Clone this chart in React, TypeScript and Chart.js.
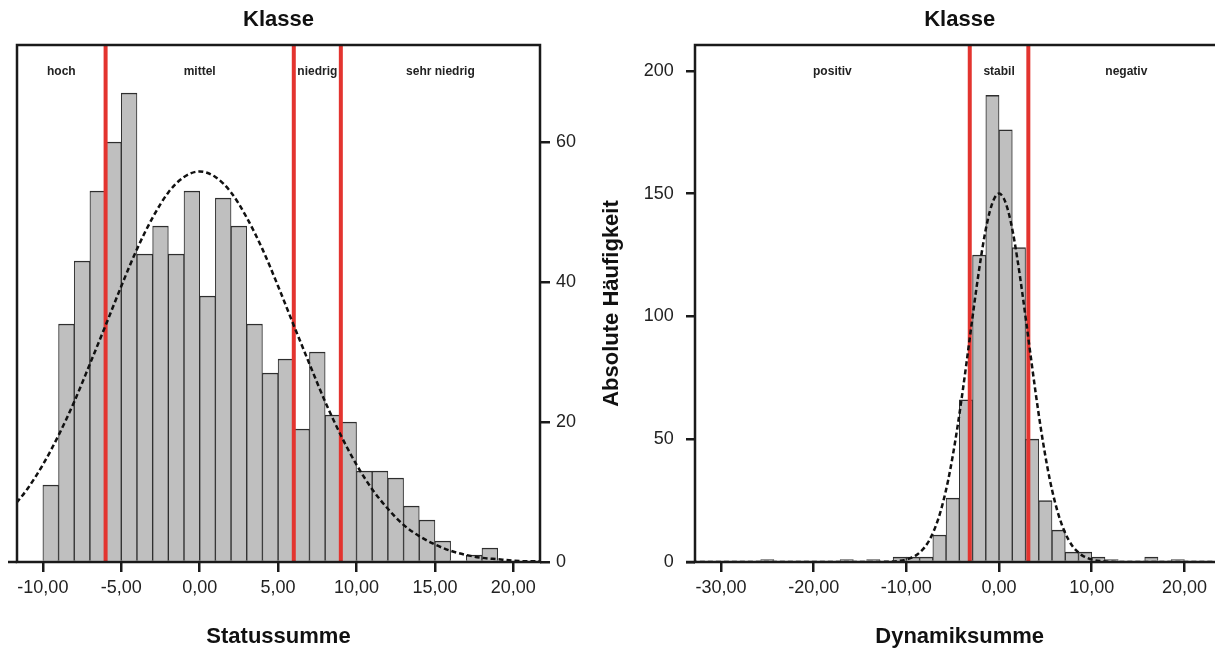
import React, { useEffect, useRef } from 'react';
import { Chart, registerables } from 'chart.js';

Chart.register(...registerables);
Chart.defaults.font.family = "'Liberation Sans', Arial, sans-serif";

// ---------- Left chart: Statussumme ----------
const statusBinCenters = [
  -9.5, -8.5, -7.5, -6.5, -5.5, -4.5, -3.5, -2.5, -1.5, -0.5,
  0.5, 1.5, 2.5, 3.5, 4.5, 5.5, 6.5, 7.5, 8.5, 9.5,
  10.5, 11.5, 12.5, 13.5, 14.5, 15.5, 16.5, 17.5, 18.5,
];
const statusCounts = [
  11, 34, 43, 53, 60, 67, 44, 48, 44, 53,
  38, 52, 48, 34, 27, 29, 19, 30, 21, 20,
  13, 13, 12, 8, 6, 3, 0, 1, 2,
];
const statusCurveX = [
  -12, -11, -10, -9, -8, -7, -6, -5, -4, -3, -2, -1, 0, 1, 2, 3, 4, 5, 6,
  7, 8, 9, 10, 11, 12, 13, 14, 15, 16, 17, 18, 19, 20, 21, 22,
];
const statusCurveY = [
  7.6, 10.4, 13.9, 18.1, 22.9, 28.3, 33.8, 39.4, 44.7, 49.2, 52.8, 55.0, 55.8,
  55.0, 52.8, 49.2, 44.7, 39.4, 33.8, 28.3, 22.9, 18.1, 13.9, 10.4, 7.6, 5.3,
  3.7, 2.5, 1.6, 1.0, 0.6, 0.4, 0.2, 0.1, 0.1,
];
const statusCuts = [-6, 6, 9];
const statusClasses = ['hoch', 'mittel', 'niedrig', 'sehr niedrig'];
const statusXTicks = [-10, -5, 0, 5, 10, 15, 20];
const statusYTicks = [0, 20, 40, 60];

// ---------- Right chart: Dynamiksumme ----------
const dynamikBinCenters = [
  -25.0, -23.571, -22.143, -20.714, -19.286, -17.857, -16.429, -15.0,
  -13.571, -12.143, -10.714, -9.286, -7.857, -6.429, -5.0, -3.571,
  -2.143, -0.714, 0.714, 2.143, 3.571, 5.0, 6.429, 7.857,
  9.286, 10.714, 12.143, 13.571, 15.0, 16.429, 17.857, 19.286,
];
const dynamikCounts = [
  1, 0, 0, 0, 0, 0, 1, 0,
  1, 0, 2, 2, 2, 11, 26, 66,
  125, 190, 176, 128, 50, 25, 13, 4,
  4, 2, 1, 0, 0, 2, 0, 1,
];
const dynamikCurveX = [
  -34, -20, -15, -13, -12, -11, -10, -9.5, -9, -8.5, -8, -7.5, -7, -6.5, -6,
  -5.5, -5, -4.5, -4, -3.5, -3, -2.5, -2, -1.5, -1, -0.5, 0, 0.5, 1, 1.5, 2,
  2.5, 3, 3.5, 4, 4.5, 5, 5.5, 6, 6.5, 7, 7.5, 8, 8.5, 9, 9.5, 10, 11, 12, 13,
  15, 20, 26,
];
const dynamikCurveY = [
  0, 0, 0, 0.03, 0.11, 0.36, 1.0, 1.7, 2.6, 4.1, 6.1, 9.0, 13.0, 18.2, 24.9,
  33.1, 43.1, 54.6, 67.5, 81.4, 95.7, 109.8, 122.8, 134.1, 142.7, 148.1, 150,
  148.1, 142.7, 134.1, 122.8, 109.8, 95.7, 81.4, 67.5, 54.6, 43.1, 33.1, 24.9,
  18.2, 13.0, 9.0, 6.1, 4.1, 2.6, 1.7, 1.0, 0.36, 0.11, 0.03, 0, 0, 0,
];
const dynamikCuts = [-3.16, 3.16];
const dynamikClasses = ['positiv', 'stabil', 'negativ'];
const dynamikXTicks = [-30, -20, -10, 0, 10, 20];
const dynamikYTicks = [0, 50, 100, 150, 200];

const INK = '#1a1a1a';

const framePlugin = {
  id: 'frame',
  afterDatasetsDraw(chart: any, _args: any, opts: any) {
    const { ctx, chartArea: a } = chart;
    const x = chart.scales.x;
    const bounds = [x.min, ...opts.cuts, x.max];
    ctx.save();
    ctx.font = "bold 12px 'Liberation Sans', Arial, sans-serif";
    ctx.fillStyle = '#222';
    ctx.textAlign = 'center';
    ctx.textBaseline = 'middle';
    opts.labels.forEach((t: string, i: number) => {
      ctx.fillText(t, x.getPixelForValue((bounds[i] + bounds[i + 1]) / 2), a.top + 27);
    });
    ctx.strokeStyle = INK;
    ctx.lineWidth = 2.5;
    ctx.strokeRect(a.left, a.top, a.right - a.left, a.bottom - a.top);
    ctx.beginPath();
    ctx.moveTo(a.left - 9, a.bottom);
    ctx.lineTo(a.left, a.bottom);
    ctx.stroke();
    ctx.restore();
  },
};

const fmtX = (v: number) => Number(v).toFixed(2).replace('.', ',');

function buildConfig(o: any): any {
  const datasets: any[] = [
    {
      type: 'line',
      data: o.curveX.map((x: number, i: number) => ({ x, y: o.curveY[i] })),
      borderColor: '#111',
      borderWidth: 2.5,
      borderDash: [5, 3],
      pointRadius: 0,
      cubicInterpolationMode: 'monotone',
      fill: false,
      order: 0,
    },
    ...o.cuts.map((c: number) => ({
      type: 'line',
      data: [
        { x: c, y: 0 },
        { x: c, y: o.yMax },
      ],
      borderColor: '#e3342f',
      borderWidth: 4,
      pointRadius: 0,
      fill: false,
      order: 1,
    })),
    {
      type: 'bar',
      data: o.centers.map((x: number, i: number) => ({ x, y: o.counts[i] })),
      backgroundColor: '#bfbfbf',
      borderColor: '#2e2e2e',
      borderWidth: { top: 1.5, left: 1, right: 1, bottom: 0 },
      borderSkipped: 'start',
      barPercentage: 1,
      categoryPercentage: 1,
      order: 2,
    },
  ];
  return {
    type: 'bar',
    data: { datasets },
    plugins: [framePlugin],
    options: {
      responsive: false,
      animation: false,
      events: [],
      layout: { padding: o.padding },
      plugins: {
        legend: { display: false },
        tooltip: { enabled: false },
        title: {
          display: true,
          text: 'Klasse',
          fullSize: false,
          color: '#111',
          font: { size: 22, weight: 'bold', lineHeight: 1.2 },
          padding: { top: 7, bottom: 11.6 },
        },
        frame: { cuts: o.cuts, labels: o.classes },
      },
      scales: {
        x: {
          type: 'linear',
          min: o.xMin,
          max: o.xMax,
          offset: false,
          border: { display: false },
          grid: {
            display: true,
            offset: false,
            drawOnChartArea: false,
            drawTicks: true,
            tickLength: 10,
            color: INK,
            lineWidth: 2.5,
          },
          afterBuildTicks: (axis: any) => {
            axis.ticks = o.xTicks.map((v: number) => ({ value: v }));
          },
          ticks: {
            autoSkip: false,
            maxRotation: 0,
            minRotation: 0,
            padding: 5,
            color: '#222',
            font: { size: 18 },
            callback: (v: any) => fmtX(v),
          },
          title: {
            display: true,
            text: o.xTitle,
            color: '#111',
            font: { size: 22, weight: 'bold', lineHeight: 1 },
            padding: { top: 0, bottom: 0 },
          },
          afterFit: (s: any) => {
            s.height = 86;
          },
        },
        y: {
          type: 'linear',
          position: o.yPos,
          min: 0,
          max: o.yMax,
          border: { display: false },
          grid: {
            display: true,
            drawOnChartArea: false,
            drawTicks: true,
            tickLength: o.yTickLength,
            color: INK,
            lineWidth: 2.5,
          },
          afterBuildTicks: (axis: any) => {
            axis.ticks = o.yTicks.map((v: number) => ({ value: v }));
          },
          ticks: {
            padding: o.yTickPadding,
            color: '#222',
            font: { size: 18 },
            callback: (v: any) => String(v),
          },
          title: {
            display: !!o.yTitle,
            text: o.yTitle || '',
            color: '#111',
            font: { size: 22, weight: 'bold', lineHeight: 1 },
            padding: { top: 10.8, bottom: 0 },
          },
          afterFit: (s: any) => {
            s.width = o.yWidth;
          },
        },
      },
    },
  };
}

function HistCanvas({ make, left, width }: { make: () => any; left: number; width: number }) {
  const ref = useRef<HTMLCanvasElement>(null);
  useEffect(() => {
    const chart = new Chart(ref.current as HTMLCanvasElement, make());
    return () => chart.destroy();
  }, []);
  return (
    <canvas
      ref={ref}
      width={width}
      height={648}
      style={{ position: 'absolute', left, top: 0, width, height: 648, display: 'block' }}
    />
  );
}

export default function App() {
  const makeLeft = () =>
    buildConfig({
      centers: statusBinCenters,
      counts: statusCounts,
      curveX: statusCurveX,
      curveY: statusCurveY,
      cuts: statusCuts,
      classes: statusClasses,
      xTicks: statusXTicks,
      yTicks: statusYTicks,
      xMin: -11.65,
      xMax: 21.7,
      yMax: 73.86,
      xTitle: 'Statussumme',
      yPos: 'right',
      yWidth: 50,
      yTickLength: 10,
      yTickPadding: 6,
      padding: { left: 17, top: 0, right: 0, bottom: 0 },
    });
  const makeRight = () =>
    buildConfig({
      centers: dynamikBinCenters,
      counts: dynamikCounts,
      curveX: dynamikCurveX,
      curveY: dynamikCurveY,
      cuts: dynamikCuts,
      classes: dynamikClasses,
      xTicks: dynamikXTicks,
      yTicks: dynamikYTicks,
      xMin: -32.8,
      xMax: 24.3,
      yMax: 210.5,
      xTitle: 'Dynamiksumme',
      yTitle: 'Absolute Häufigkeit',
      yPos: 'left',
      yWidth: 105,
      yTickLength: 9,
      yTickPadding: 12.3,
      padding: { left: 0, top: 0, right: 10.7, bottom: 0 },
    });
  return (
    <div
      style={{
        position: 'fixed',
        left: 0,
        top: 0,
        width: 1215,
        height: 648,
        overflow: 'hidden',
        background: '#fff',
      }}
    >
      <HistCanvas make={makeLeft} left={0} width={590} />
      <HistCanvas make={makeRight} left={590} width={645} />
    </div>
  );
}
